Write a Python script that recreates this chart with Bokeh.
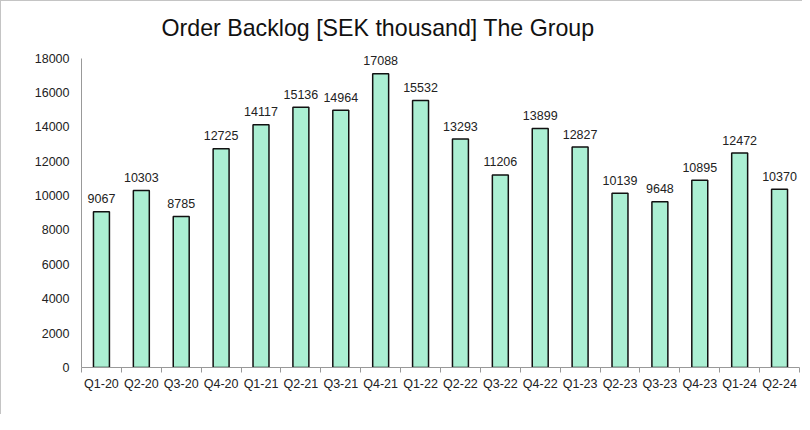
from bokeh.plotting import figure
from bokeh.models import ColumnDataSource, Range1d, FixedTicker, LabelSet
from bokeh.core.properties import value
from bokeh.embed import file_html
from bokeh.resources import INLINE

quarters = ["Q1-20", "Q2-20", "Q3-20", "Q4-20", "Q1-21", "Q2-21", "Q3-21", "Q4-21", "Q1-22",
            "Q2-22", "Q3-22", "Q4-22", "Q1-23", "Q2-23", "Q3-23", "Q4-23", "Q1-24", "Q2-24"]
backlog = [9067, 10303, 8785, 12725, 14117, 15136, 14964, 17088, 15532,
           13293, 11206, 13899, 12827, 10139, 9648, 10895, 12472, 10370]
y_ticks = list(range(0, 18001, 2000))
title_text = "Order Backlog [SEK thousand] The Group"

n = len(quarters)
centers = [i + 0.5 for i in range(n)]
boundaries = list(range(n + 1))

src = ColumnDataSource(dict(x=centers, y=backlog, lbl=[str(v) for v in backlog]))

p = figure(width=802, height=414, output_backend="svg", toolbar_location=None,
           x_range=Range1d(0, n), y_range=Range1d(0, 18500),
           min_border_left=80, min_border_right=4, min_border_top=48, min_border_bottom=48,
           title=title_text)
p.styles = {"border-top": "1px solid #c4c4c4", "border-left": "1px solid #c4c4c4"}
p.outline_line_color = None
p.xgrid.visible = False
p.ygrid.visible = False
p.background_fill_color = "white"
p.border_fill_color = "white"

p.title.align = "left"
p.title.offset = 80
p.title.text_font = "Liberation Sans"
p.title.text_font_size = "23.2px"
p.title.text_font_style = "normal"
p.title.text_color = "#111111"
p.title.standoff = 17

p.vbar(x="x", top="y", width=0.4, source=src, fill_color="#ABEFD3",
       line_color="#111111", line_width=1.5)

labels = LabelSet(x="x", y="y", text="lbl", source=src, text_align="center",
                  text_baseline="middle", y_offset=13, text_font=value("Liberation Sans"),
                  text_font_size=value("12.5px"), text_color="#222222")
p.add_layout(labels)

xa = p.xaxis[0]
xa.ticker = FixedTicker(ticks=centers, minor_ticks=boundaries)
xa.major_label_overrides = {c: q for c, q in zip(centers, quarters)}
xa.major_tick_line_color = None
xa.major_tick_out = 0
xa.minor_tick_in = 0
xa.minor_tick_out = 5
xa.minor_tick_line_color = "#999999"
xa.axis_line_color = "#999999"
xa.major_label_standoff = 4
xa.major_label_text_font = "Liberation Sans"
xa.major_label_text_font_size = "12.5px"
xa.major_label_text_color = "#222222"

ya = p.yaxis[0]
ya.ticker = FixedTicker(ticks=y_ticks)
ya.bounds = (y_ticks[0], y_ticks[-1])
ya.major_tick_line_color = None
ya.minor_tick_line_color = None
ya.major_tick_out = 0
ya.axis_line_color = "#999999"
ya.major_label_standoff = 12
ya.major_label_text_font = "Liberation Sans"
ya.major_label_text_font_size = "12.5px"
ya.major_label_text_color = "#222222"

open("out.html", "w").write(file_html(p, INLINE))
